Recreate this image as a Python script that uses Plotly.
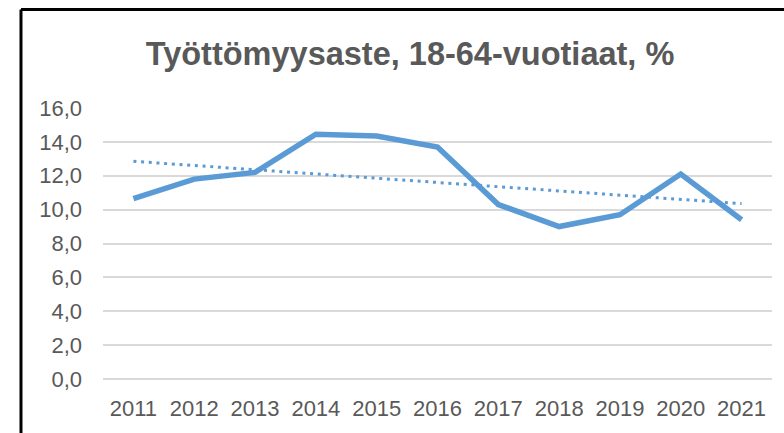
import numpy as np
import plotly.graph_objects as go

years = ["2011", "2012", "2013", "2014", "2015", "2016", "2017", "2018", "2019", "2020", "2021"]
rate = [10.65, 11.8, 12.2, 14.45, 14.35, 13.7, 10.3, 9.0, 9.7, 12.1, 9.4]
y_ticks = [0, 2, 4, 6, 8, 10, 12, 14, 16]
y_tick_labels = ["0,0", "2,0", "4,0", "6,0", "8,0", "10,0", "12,0", "14,0", "16,0"]
title_text = "Työttömyysaste, 18-64-vuotiaat, %"

# linear trendline (least squares on the series, as the spreadsheet does)
idx = np.arange(len(rate))
slope, intercept = np.polyfit(idx, rate, 1)
trend = list(slope * idx + intercept)

BLUE = "#5B9BD5"
TEXT = "#595959"
FONT = "Liberation Sans"

fig = go.Figure()
fig.add_trace(go.Scatter(x=years, y=rate, mode="lines",
                         line=dict(color=BLUE, width=5.5), hoverinfo="skip"))
fig.add_trace(go.Scatter(x=years, y=trend, mode="lines",
                         line=dict(color=BLUE, width=3, dash="3px,4.7px"), hoverinfo="skip"))

fig.update_layout(
    width=784, height=433,
    margin=dict(l=103, r=12, t=108, b=54),
    paper_bgcolor="white", plot_bgcolor="white",
    showlegend=False,
    font=dict(family=FONT, color=TEXT, size=22),
    title=dict(text="<b>" + title_text + "</b>", x=0.523, xanchor="center",
               y=1 - 54 / 433, yanchor="middle", yref="container",
               font=dict(family=FONT, size=32.5, color=TEXT)),
    xaxis=dict(type="category", range=[-0.5, 10.5], showgrid=False, zeroline=False,
               showline=False, ticks="", tickfont=dict(size=22, color=TEXT),
               ticklabelstandoff=14),
    yaxis=dict(range=[0, 16], tickvals=y_ticks, ticktext=y_tick_labels,
               showgrid=True, gridcolor="#D9D9D9", gridwidth=1.5,
               zeroline=True, zerolinecolor="#D9D9D9", zerolinewidth=1.5,
               showline=False, ticks="", tickfont=dict(size=22, color=TEXT),
               ticklabelstandoff=20),
    shapes=[
        dict(type="line", xref="paper", yref="paper", x0=-0.1226, x1=-0.1226,
             y0=-0.5, y1=1.3635, line=dict(color="black", width=3)),
        dict(type="line", xref="paper", yref="paper", x0=-0.1226, x1=1.2,
             y0=1.3635, y1=1.3635, line=dict(color="black", width=3)),
    ],
)

fig.write_html("out.html", config={"displayModeBar": False},
               post_script="document.body.style.margin='0';document.body.style.overflow='hidden';")
